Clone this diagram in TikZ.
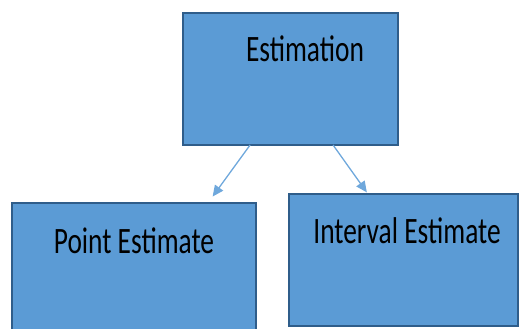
\documentclass[tikz,border=0pt]{standalone}
\usepackage{fontspec}
\setmainfont{Carlito}
\usetikzlibrary{calc,arrows.meta}
\definecolor{boxfill}{HTML}{5B9BD5}
\definecolor{boxline}{HTML}{2F5D8A}
\definecolor{arrowc}{HTML}{6FA8DC}
\tikzset{
  box/.style={draw=boxline, fill=boxfill, line width=2.2pt, inner sep=0pt, outer sep=0pt, anchor=north west},
  lbl/.style={inner sep=0pt, font=\fontsize{27.4}{30}\selectfont},
  conn/.style={draw=arrowc, line width=1.3pt, -{Triangle[length=11pt,width=10pt]}}
}
\newcommand{\tall}[1]{\scalebox{1}[1.36]{#1}}
\begin{document}
\begin{tikzpicture}[x=1pt,y=-1pt]
\useasboundingbox (0,0) rectangle (522,329);
\begin{scope}
\clip (0,0) rectangle (522,329);
\node[box, minimum width=215pt, minimum height=132pt] (top) at (183,13) {};
\node[box, minimum width=244pt, minimum height=140pt] (left) at (12,203) {};
\node[box, minimum width=229pt, minimum height=132pt] (right) at (289,194) {};
\end{scope}
\node[lbl] (ttop) at (305,49) {\tall{Estimation}};
\node[lbl] (tleft) at (134,241) {\tall{Point Estimate}};
\node[lbl] (tright) at (407,231) {\tall{Interval Estimate}};
\draw[conn, shorten >=8pt] ($(top.south west)!0.312!(top.south east)$) -- ($(left.north west)!0.803!(left.north east)$);
\draw[conn, shorten >=2pt] ($(top.south west)!0.698!(top.south east)$) -- ($(right.north west)!0.345!(right.north east)$);
\end{tikzpicture}
\end{document}
